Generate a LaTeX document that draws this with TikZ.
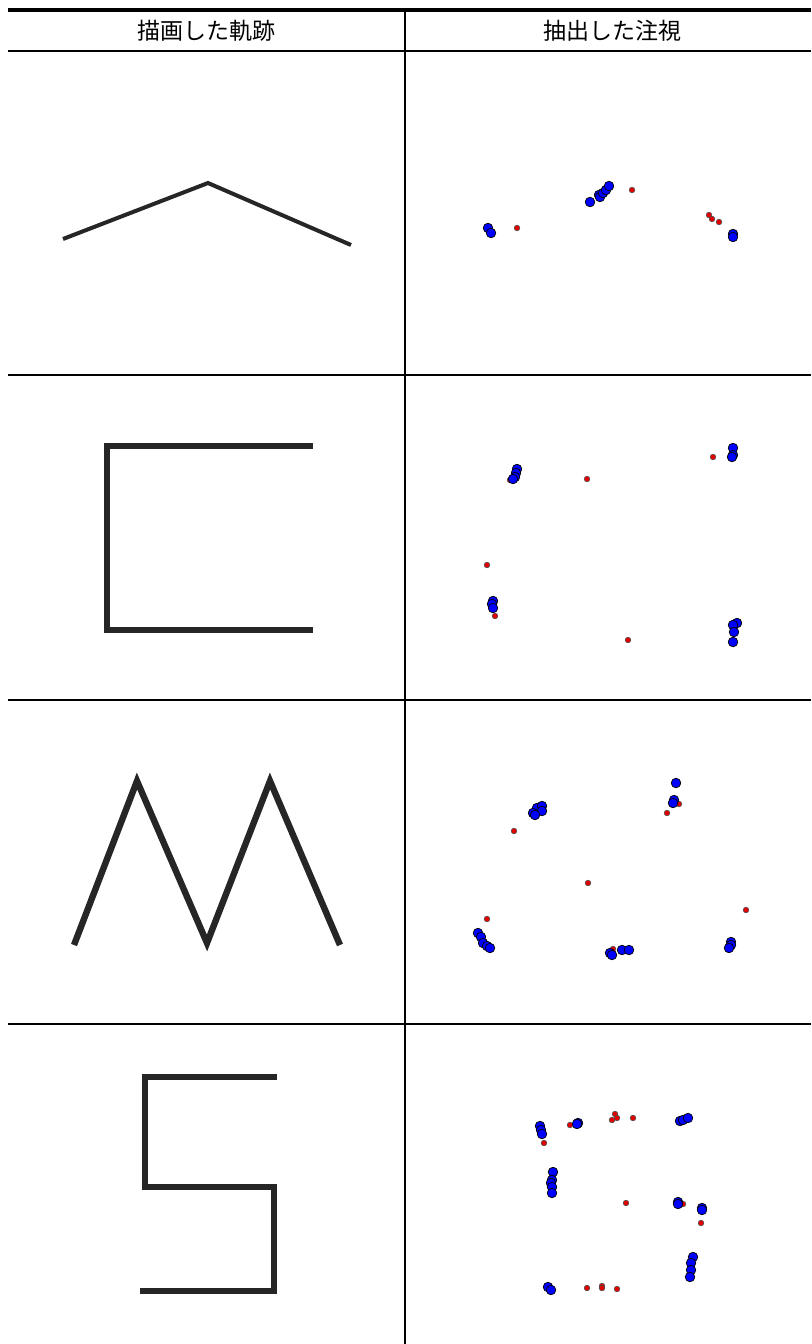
\documentclass[tikz,border=0pt]{standalone}
\usepackage{fontspec}
\newfontfamily\jp{Noto Sans CJK JP}
\begin{document}
\begin{tikzpicture}[x=0.5pt,y=-0.5pt,
  rule/.style={draw=black,line width=1pt},
  trace/.style={draw=black!85,line width=3.2pt,line join=miter},
  gaze/.style={fill=blue,draw=black,line width=0.35pt},
  fixpt/.style={fill=red!90!black,draw=black!70,line width=0.3pt},
  head/.style={font=\jp\fontsize{11.5}{14}\selectfont,inner sep=0pt}]
\useasboundingbox (0,0) rectangle (811,1344);
% table
\draw[rule,line width=1.6pt] (8,10) -- (811,10);
\foreach \y in {51,375,700,1024} \draw[rule] (8,\y) -- (811,\y);
\draw[rule] (405,10) -- (405,1344);
\node[head] (hdraw) at (206,31) {描画した軌跡};
\node[head] (hgaze) at (612,31) {抽出した注視};
% drawn traces
\draw[trace,line width=2pt] (63,239) -- (208,183) -- (351,245);
\draw[trace] (313,446) -- (107,446) -- (107,630) -- (313,630);
\draw[trace] (74,945) -- (137,781) -- (207,943) -- (270,781) -- (340,945);
\draw[trace] (277,1077) -- (145,1077) -- (145,1187) -- (274,1187) -- (274,1291) -- (140,1291);
% fixations (red) under gaze samples (blue)
\foreach \x/\y in {517/228,632/190,709/215,712/219,719/222,
    510/480,587/479,713/457,487/565,495/616,628/640,
    514/831,667/813,679/804,588/883,487/919,746/910,613/949,
    544/1143,570/1125,615/1114,617/1118,612/1120,633/1118,626/1203,683/1204,701/1223,587/1288,602/1286,602/1288,617/1289}
  \path[fixpt] (\x,\y) circle (1.4pt);
\foreach \x/\y in {488/228,491/233,590/202,599/195,600/197,603/193,606/190,609/186,733/234,733/237,
    517/469,516/473,515/477,513/479,733/448,733/455,732/457,493/601,492/604,493/608,737/623,733/625,734/632,733/642,
    676/783,674/800,673/803,537/808,542/806,542/811,533/813,535/815,478/933,481/937,483/943,487/946,490/948,610/953,612/955,622/950,629/950,731/942,731/945,729/948,
    540/1126,541/1130,542/1134,578/1123,577/1124,680/1121,683/1120,688/1118,553/1172,552/1180,551/1183,552/1187,552/1193,678/1202,678/1204,702/1208,702/1210,693/1257,691/1263,691/1270,690/1277,548/1287,551/1290}
  \path[gaze] (\x,\y) circle (2.4pt);
\end{tikzpicture}
\end{document}
